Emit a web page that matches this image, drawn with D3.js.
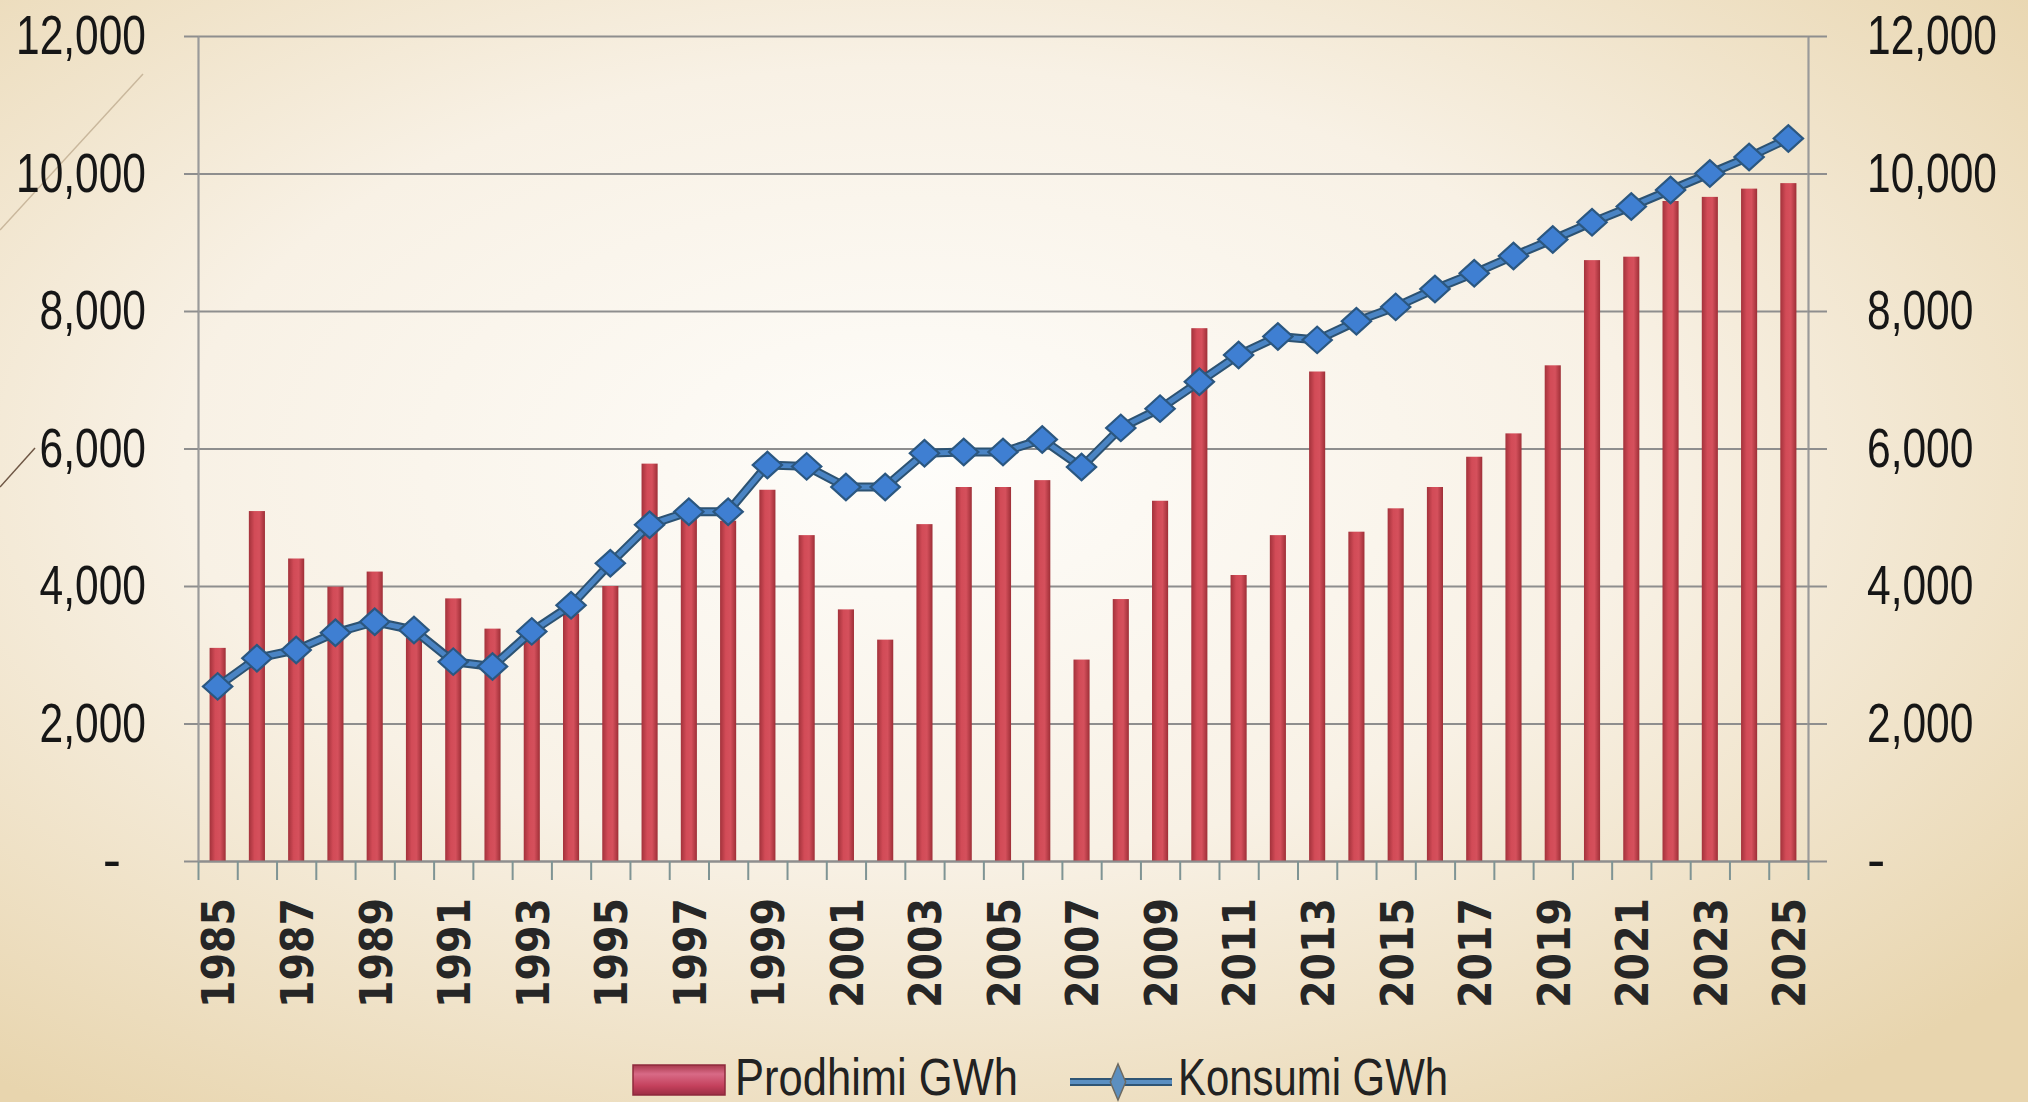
<!DOCTYPE html>
<html>
<head>
<meta charset="utf-8">
<script src="https://cdn.jsdelivr.net/npm/d3@7"></script>
<style>
  html, body { margin: 0; padding: 0; background: #f3e8d4; }
  #chart svg { display: block; }
</style>
</head>
<body>
<div id="chart"></div>
<script>
// Years on the category axis
const years = [
  1985, 1986, 1987, 1988, 1989, 1990, 1991, 1992, 1993, 1994,
  1995, 1996, 1997, 1998, 1999, 2000, 2001, 2002, 2003, 2004,
  2005, 2006, 2007, 2008, 2009, 2010, 2011, 2012, 2013, 2014,
  2015, 2016, 2017, 2018, 2019, 2020, 2021, 2022, 2023, 2024, 2025
];

// Production (bars), GWh
const prodhimi = [
  3100, 5090, 4400, 3990, 4210, 3250, 3820, 3380, 3300, 3600,
  4000, 5780, 5000, 4950, 5400, 4740, 3660, 3220, 4900, 5440,
  5440, 5540, 2930, 3810, 5240, 7750, 4160, 4740, 7120, 4790,
  5130, 5440, 5880, 6220, 7210, 8740, 8790, 9600, 9660, 9780, 9860
];

// Consumption (line), GWh
const konsumi = [
  2540, 2950, 3070, 3320, 3480, 3360, 2900, 2830, 3340, 3720,
  4330, 4890, 5080, 5080, 5760, 5740, 5440, 5440, 5930, 5950,
  5950, 6130, 5730, 6300, 6580, 6970, 7360, 7630, 7580, 7850,
  8060, 8320, 8550, 8800, 9040, 9290, 9520, 9760, 10000, 10240, 10510
];

const yTicks = [0, 2000, 4000, 6000, 8000, 10000, 12000];
const labelYears = years.filter((d, i) => i % 2 === 0);
const seriesNames = ["Prodhimi GWh", "Konsumi GWh"];

const width = 2028;
const height = 1102;
const margin = { top: 36, right: 220, bottom: 241, left: 198 };
const innerWidth = width - margin.left - margin.right;
const innerHeight = height - margin.top - margin.bottom;

const svg = d3.select("#chart")
  .append("svg")
  .attr("width", width)
  .attr("height", height);

const defs = svg.append("defs");

// Slide background: pale centre, beige edges
const bg = defs.append("radialGradient")
  .attr("id", "bg")
  .attr("cx", 0.45).attr("cy", 0.42).attr("r", 0.72);
bg.append("stop").attr("offset", "0%").attr("stop-color", "#fefdfa");
bg.append("stop").attr("offset", "50%").attr("stop-color", "#f8f1e5");
bg.append("stop").attr("offset", "100%").attr("stop-color", "#e8d5ae");

// Bar shading (left-right)
const barGrad = defs.append("linearGradient")
  .attr("id", "barGrad")
  .attr("x1", 0).attr("x2", 1).attr("y1", 0).attr("y2", 0);
barGrad.append("stop").attr("offset", "0%").attr("stop-color", "#a3323b");
barGrad.append("stop").attr("offset", "35%").attr("stop-color", "#d24b57");
barGrad.append("stop").attr("offset", "65%").attr("stop-color", "#d5505c");
barGrad.append("stop").attr("offset", "100%").attr("stop-color", "#9e2f37");

// Legend swatch shading (top-bottom)
const keyGrad = defs.append("linearGradient")
  .attr("id", "keyGrad")
  .attr("x1", 0).attr("x2", 0).attr("y1", 0).attr("y2", 1);
keyGrad.append("stop").attr("offset", "0%").attr("stop-color", "#a8384c");
keyGrad.append("stop").attr("offset", "30%").attr("stop-color", "#d86a86");
keyGrad.append("stop").attr("offset", "70%").attr("stop-color", "#c4405c");
keyGrad.append("stop").attr("offset", "100%").attr("stop-color", "#9c2e44");

svg.append("rect")
  .attr("width", width)
  .attr("height", height)
  .attr("fill", "url(#bg)");

// Thin decorative strokes from the slide theme
svg.append("line")
  .attr("x1", 0).attr("y1", 230).attr("x2", 143).attr("y2", 74)
  .attr("stroke", "#c9b79c").attr("stroke-width", 1.5);
svg.append("line")
  .attr("x1", 0).attr("y1", 487).attr("x2", 35).attr("y2", 448)
  .attr("stroke", "#6e5644").attr("stroke-width", 1.5);

const innerChart = svg.append("g")
  .attr("transform", `translate(${margin.left}, ${margin.top})`);

// Scales
const xScale = d3.scaleBand()
  .domain(years)
  .range([0, innerWidth])
  .paddingInner(0.59)
  .paddingOuter(0.295);

// category boundaries, for the tick marks between years
const xEdge = d3.scaleLinear()
  .domain([0, years.length])
  .range([0, innerWidth]);

const yScale = d3.scaleLinear()
  .domain([0, 12000])
  .range([innerHeight, 0]);

// Gridlines
innerChart.append("g")
  .call(d3.axisLeft(yScale).tickValues(yTicks).tickSize(-innerWidth).tickFormat(""))
  .call(g => g.select(".domain").remove())
  .selectAll("line")
  .attr("stroke", "#8e8e8e")
  .attr("stroke-width", 2.2);

// Bars
innerChart.selectAll(".bar")
  .data(years)
  .join("rect")
  .attr("class", "bar")
  .attr("x", d => xScale(d))
  .attr("y", (d, i) => yScale(prodhimi[i]))
  .attr("width", xScale.bandwidth())
  .attr("height", (d, i) => innerHeight - yScale(prodhimi[i]))
  .attr("fill", "url(#barGrad)");

// Bottom axis: tick marks between categories
innerChart.append("g")
  .attr("transform", `translate(0, ${innerHeight})`)
  .call(d3.axisBottom(xEdge)
    .tickValues(d3.range(years.length + 1))
    .tickSize(19)
    .tickSizeOuter(0)
    .tickFormat(""))
  .call(g => g.select(".domain").attr("stroke", "#8e8e8e").attr("stroke-width", 2.2))
  .selectAll(".tick line")
  .attr("stroke", "#7f9494")
  .attr("stroke-width", 2);

// Bottom axis: year labels, rotated
innerChart.append("g")
  .attr("transform", `translate(0, ${innerHeight})`)
  .call(d3.axisBottom(xScale).tickValues(labelYears).tickSize(0).tickPadding(0))
  .call(g => g.select(".domain").remove())
  .selectAll("text")
  .attr("transform", "rotate(-90)")
  .attr("x", -37)
  .attr("y", 1)
  .attr("dy", "0.36em")
  .attr("text-anchor", "end")
  .attr("textLength", 110)
  .attr("lengthAdjust", "spacingAndGlyphs")
  .style("font-family", "'DejaVu Sans', Verdana, sans-serif")
  .style("font-weight", "bold")
  .style("font-size", "44px")
  .style("fill", "#262626");

const numFormat = d => d === 0 ? "-" : d3.format(",")(d);
const labelLen = d => numFormat(d).replace(",", "").length * 23.6 + 12;

// Left axis
const leftAxis = innerChart.append("g")
  .call(d3.axisLeft(yScale)
    .tickValues(yTicks)
    .tickSize(14)
    .tickSizeOuter(0)
    .tickPadding(38)
    .tickFormat(numFormat));
leftAxis.select(".domain").attr("stroke", "#9a9a9a").attr("stroke-width", 2.2);
leftAxis.selectAll(".tick line").attr("stroke", "#8e8e8e").attr("stroke-width", 2);
leftAxis.selectAll("text")
  .attr("x", d => d === 0 ? -77 : -52)
  .attr("textLength", d => d === 0 ? null : labelLen(d))
  .attr("lengthAdjust", "spacingAndGlyphs")
  .style("font-family", "'Liberation Sans', Arial, sans-serif")
  .style("font-size", "55px")
  .style("fill", "#161616");

// Right axis (same scale)
const rightAxis = innerChart.append("g")
  .attr("transform", `translate(${innerWidth}, 0)`)
  .call(d3.axisRight(yScale)
    .tickValues(yTicks)
    .tickSize(19)
    .tickSizeOuter(0)
    .tickPadding(40)
    .tickFormat(numFormat));
rightAxis.select(".domain").attr("stroke", "#9a9a9a").attr("stroke-width", 2.2);
rightAxis.selectAll(".tick line").attr("stroke", "#8e8e8e").attr("stroke-width", 2);
rightAxis.selectAll("text")
  .attr("textLength", d => d === 0 ? null : labelLen(d))
  .attr("lengthAdjust", "spacingAndGlyphs")
  .style("font-family", "'Liberation Sans', Arial, sans-serif")
  .style("font-size", "55px")
  .style("fill", "#161616");

// Consumption line
const line = d3.line()
  .x((d, i) => xScale(years[i]) + xScale.bandwidth() / 2)
  .y(d => yScale(d));

innerChart.append("path")
  .datum(konsumi)
  .attr("fill", "none")
  .attr("stroke", "#2c5272")
  .attr("stroke-width", 9)
  .attr("d", line);
innerChart.append("path")
  .datum(konsumi)
  .attr("fill", "none")
  .attr("stroke", "#4a84c4")
  .attr("stroke-width", 5)
  .attr("d", line);

// Diamond markers
const diamond = d3.symbol().type(d3.symbolSquare).size(390);
innerChart.selectAll(".marker")
  .data(konsumi)
  .join("path")
  .attr("class", "marker")
  .attr("d", diamond)
  .attr("transform", (d, i) =>
    `translate(${xScale(years[i]) + xScale.bandwidth() / 2}, ${yScale(d)}) scale(1.05, 0.95) rotate(45)`)
  .attr("fill", "#3f7fd2")
  .attr("stroke", "#2b5780")
  .attr("stroke-width", 2.2);

// Legend
const legend = svg.append("g");

legend.append("rect")
  .attr("x", 633).attr("y", 1065)
  .attr("width", 92).attr("height", 30)
  .attr("fill", "url(#keyGrad)")
  .attr("stroke", "#8e2a3c")
  .attr("stroke-width", 1.5);
legend.append("text")
  .attr("x", 735).attr("y", 1095)
  .attr("textLength", 283)
  .attr("lengthAdjust", "spacingAndGlyphs")
  .text(seriesNames[0])
  .style("font-family", "'Liberation Sans', Arial, sans-serif")
  .style("font-size", "52px")
  .style("fill", "#222");

legend.append("line")
  .attr("x1", 1070).attr("x2", 1172)
  .attr("y1", 1082).attr("y2", 1082)
  .attr("stroke", "#2f5575").attr("stroke-width", 8);
legend.append("line")
  .attr("x1", 1070).attr("x2", 1172)
  .attr("y1", 1082).attr("y2", 1082)
  .attr("stroke", "#5a8fc2").attr("stroke-width", 4);
legend.append("path")
  .attr("d", diamond)
  .attr("transform", "translate(1118, 1082) scale(0.55, 1.3) rotate(45)")
  .attr("fill", "#5d8fbf")
  .attr("stroke", "#6e6a60")
  .attr("stroke-width", 2);
legend.append("text")
  .attr("x", 1178).attr("y", 1095)
  .attr("textLength", 270)
  .attr("lengthAdjust", "spacingAndGlyphs")
  .text(seriesNames[1])
  .style("font-family", "'Liberation Sans', Arial, sans-serif")
  .style("font-size", "52px")
  .style("fill", "#222");
</script>
</body>
</html>
